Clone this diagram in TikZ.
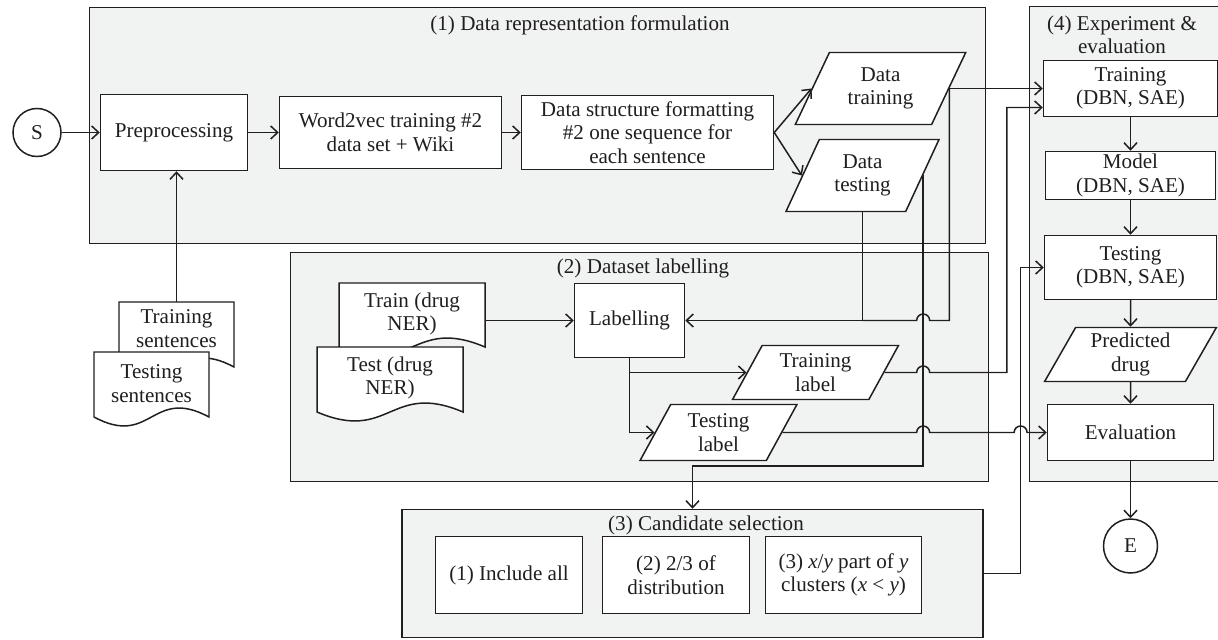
\documentclass[tikz,border=0pt]{standalone}
\usepackage{fontspec}
\setmainfont{Liberation Serif}
\usepackage{tikz}
\usetikzlibrary{shapes.geometric,arrows.meta,calc,positioning}

\definecolor{boxfill}{RGB}{241,243,242}
\definecolor{ink}{RGB}{32,30,30}

\tikzset{
  group/.style={draw=ink, fill=boxfill, line width=0.85pt, inner sep=0pt},
  proc/.style={draw=ink, fill=white, line width=0.85pt, align=center, inner sep=1pt},
  data/.style={trapezium, trapezium left angle=63, trapezium right angle=117,
    trapezium stretches=true, draw=ink, fill=white, line width=0.85pt,
    align=center, inner sep=1pt},
  term/.style={circle, draw=ink, fill=white, line width=0.85pt, inner sep=0pt},
  docline/.style={draw=ink, fill=white, line width=0.85pt},
  doc/.style={align=center, inner sep=0pt},
  link/.style={draw=ink, line width=0.85pt},
}

% document symbol: centre x, centre y, width, height
\newcommand{\docpath}[4]{%
  \draw[docline] ({#1-#3/2},{#2+#4/2}) -- ({#1+#3/2},{#2+#4/2})
    -- ({#1+#3/2},{#2-#4/2})
    .. controls ({#1},{#2-#4/2+0.62}) and ({#1},{#2-#4/2-0.62}) .. ({#1-#3/2},{#2-#4/2})
    -- cycle;}

\begin{document}
\begin{tikzpicture}[font=\fontsize{12}{13.3}\selectfont, text=ink,
    >={Straight Barb[length=1.4mm,width=2.6mm]}]
    \useasboundingbox (0,0) rectangle (24.36,12.78);

    % the four stages
    \node[group, minimum width=17.92cm, minimum height=4.72cm] (g1) at (10.75,10.27) {};
    \node[group, minimum width=13.96cm, minimum height=4.58cm] (g2) at (12.79,5.44) {};
    \node[group, minimum width=11.62cm, minimum height=2.56cm] (cand) at (13.85,1.31) {};
    \node[group, minimum width=4.02cm, minimum height=9.5cm] (g4) at (22.60,7.90) {};

    \node (t1) at (11.60,12.28) {(1) Data representation formulation};
    \node (t2) at (12.86,7.42) {(2) Dataset labelling};
    \node (t3) at (14.12,2.28) {(3) Candidate selection};
    \node[align=center] (t4) at (22.44,12.09) {(4) Experiment \&\\evaluation};

    % (1)
    \node[term, minimum size=0.96cm] (s) at (0.74,10.13) {S};
    \node[proc, minimum width=2.94cm, minimum height=1.52cm] (pre) at (3.48,10.13) {Preprocessing};
    \node[proc, minimum width=4.44cm, minimum height=1.44cm] (w2v) at (7.81,10.13) {Word2vec training \#2\\data set + Wiki};
    \node[proc, minimum width=5.04cm, minimum height=1.48cm] (dsf) at (12.95,10.13) {Data structure formatting\\\#2 one sequence for\\each sentence};
    \node[data, minimum width=3.42cm, minimum height=1.44cm] (dtrain) at (17.61,11.01) {Data\\training};
    \node[data, minimum width=3.06cm, minimum height=1.44cm] (dtest) at (17.25,9.27) {Data\\testing};

    \docpath{3.53}{6.09}{2.30}{1.30}
    \node[doc, minimum width=2.30cm, minimum height=1.06cm] (tsent) at (3.53,6.21) {Training\\sentences};
    \docpath{3.03}{5.09}{2.30}{1.30}
    \node[doc, minimum width=2.30cm, minimum height=1.30cm] (tssent) at (3.03,5.11) {Testing\\sentences};

    % (2)
    \docpath{8.24}{6.48}{2.92}{1.28}
    \node[doc, minimum width=2.92cm, minimum height=1.28cm] (trner) at (8.24,6.50) {Train (drug\\NER)};
    \docpath{7.80}{5.19}{2.92}{1.30}
    \node[doc, minimum width=2.92cm, minimum height=1.30cm] (tsner) at (7.80,5.22) {Test (drug\\NER)};
    \node[proc, minimum width=2.20cm, minimum height=1.48cm] (lab) at (12.59,6.37) {Labelling};
    \node[data, minimum width=3.34cm, minimum height=1.08cm] (trlab) at (16.31,5.33) {Training\\label};
    \node[data, minimum width=3.14cm, minimum height=1.12cm] (tstlab) at (14.37,4.13) {Testing\\label};

    % (3)
    \node[proc, minimum width=2.94cm, minimum height=1.54cm] (c1) at (10.18,1.28) {(1) Include all};
    \node[proc, minimum width=2.94cm, minimum height=1.54cm] (c2) at (13.52,1.28) {(2) 2/3 of\\distribution};
    \node[proc, minimum width=3.12cm, minimum height=1.54cm] (c3) at (16.87,1.28) {(3) \textit{x}/\textit{y} part of \textit{y}\\clusters (\textit{x} < \textit{y})};

    % (4)
    \node[proc, minimum width=3.48cm, minimum height=1.12cm] (tr) at (22.61,11.01) {Training\\(DBN, SAE)};
    \node[proc, minimum width=3.40cm, minimum height=0.96cm] (mod) at (22.61,9.27) {Model\\(DBN, SAE)};
    \node[proc, minimum width=3.44cm, minimum height=1.28cm] (tst) at (22.61,7.43) {Testing\\(DBN, SAE)};
    \node[data, minimum width=3.44cm, minimum height=1.08cm] (pred) at (22.61,5.69) {Predicted\\drug};
    \node[proc, minimum width=3.32cm, minimum height=1.12cm] (ev) at (22.61,4.13) {Evaluation};
    \node[term, minimum size=1.08cm] (e) at (22.61,1.86) {E};

    % bus lines
    \coordinate (vx) at (dtest.right side);
    \coordinate (vy) at ($(cand.east)+(0.737,0)$);
    \coordinate (bus1) at ($(tr.west)+(-0.72,0)$);
    \coordinate (candin) at ($(cand.north)+(0,0.855)$);

    \draw[link,->] (s) -- (pre);
    \draw[link,->] (pre) -- (w2v);
    \draw[link,->] (w2v) -- (dsf);
    \draw[link,->] (dsf.east) -- (dtrain.left side);
    \draw[link,->] (dsf.east) -- (dtest.left side);
    \draw[link,->] (tsent.north) -- (tsent.north |- pre.south);
    \draw[link,->] (trner.east |- lab.west) -- (lab.west);

    \draw[link,->] (dtrain.right side) -- (dtrain.right side -| tr.west);
    \draw[link,->] (dtest.center |- dtest.south) |- (lab.east);
    \draw[link] (dtrain.right side) |- ($(vx |- lab.east)+(0.13,0)$)
        arc[start angle=0, end angle=180, radius=0.13] -- (dtest.center |- lab.east);
    \draw[link,->] (vx) |- (candin) -- (cand.north);

    \draw[link,->] (lab.south) |- (tstlab.left side);
    \draw[link,->] (lab.south |- trlab.left side) -- (trlab.left side);

    \draw[link,->] (trlab.right side) -- ($(vx |- trlab.right side)+(-0.13,0)$)
        arc[start angle=180, end angle=0, radius=0.13] -- (bus1 |- trlab.right side)
        |- ($(tr.west)+(0,-0.38)$);
    \draw[link,->] (tstlab.right side) -- ($(vx |- ev.west)+(-0.13,0)$)
        arc[start angle=180, end angle=0, radius=0.13] -- ($(vy |- ev.west)+(-0.13,0)$)
        arc[start angle=180, end angle=0, radius=0.13] -- (ev.west);
    \draw[link,->] (cand.east) -- (vy) |- (tst.west);

    \draw[link,->] (tr) -- (mod);
    \draw[link,->] (mod) -- (tst);
    \draw[link,->] (tst) -- (pred);
    \draw[link,->] (pred) -- (ev);
    \draw[link,->] (ev) -- (e);

\end{tikzpicture}
\end{document}
